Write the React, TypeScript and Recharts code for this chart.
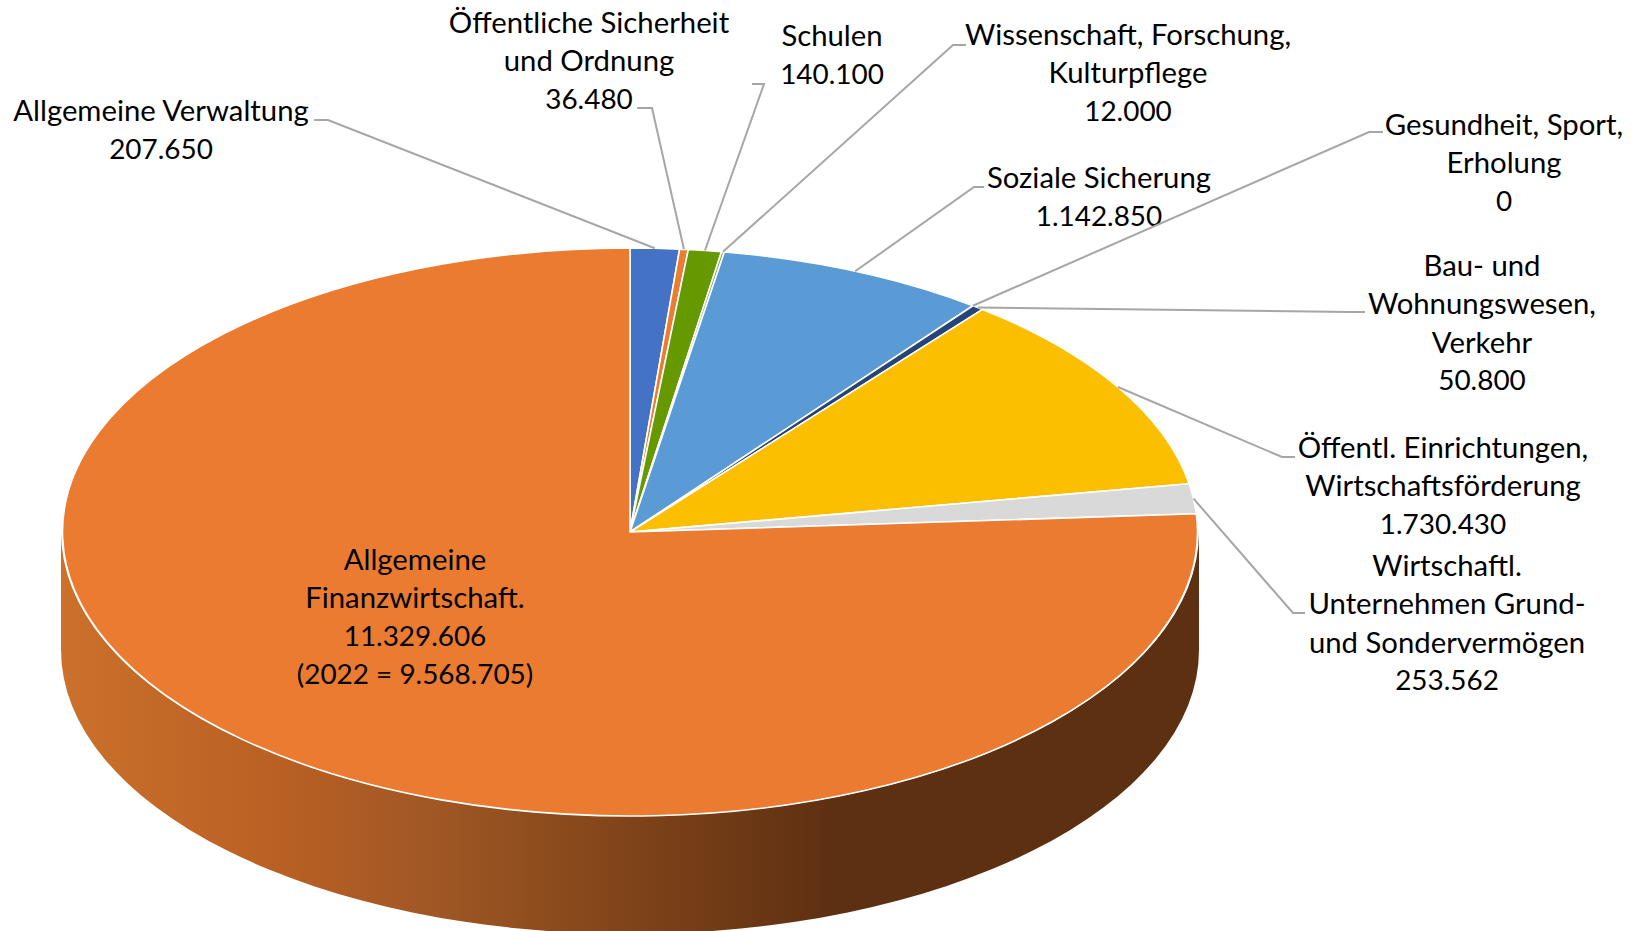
import React from "react";
import { PieChart, Pie } from "recharts";

const categories = [
  "Allgemeine Verwaltung",
  "Öffentliche Sicherheit und Ordnung",
  "Schulen",
  "Wissenschaft, Forschung, Kulturpflege",
  "Soziale Sicherung",
  "Gesundheit, Sport, Erholung",
  "Bau- und Wohnungswesen, Verkehr",
  "Öffentl. Einrichtungen, Wirtschaftsförderung",
  "Wirtschaftl. Unternehmen Grund- und Sondervermögen",
  "Allgemeine Finanzwirtschaft.",
];
const values = [207650, 36480, 140100, 12000, 1142850, 0, 50800, 1730430, 253562, 11329606];
const labelLines = [
  ["Allgemeine Verwaltung"],
  ["Öffentliche Sicherheit", "und Ordnung"],
  ["Schulen"],
  ["Wissenschaft, Forschung,", "Kulturpflege"],
  ["Soziale Sicherung"],
  ["Gesundheit, Sport,", "Erholung"],
  ["Bau- und", "Wohnungswesen,", "Verkehr"],
  ["Öffentl. Einrichtungen,", "Wirtschaftsförderung"],
  ["Wirtschaftl.", "Unternehmen Grund-", "und Sondervermögen"],
  ["Allgemeine", "Finanzwirtschaft."],
];
const labelNotes = ["", "", "", "", "", "", "", "", "", "(2022 = 9.568.705)"];

const sliceColors = ["#4472C4", "#EC7C30", "#669900", "#70AD47", "#5B9BD5", "#1F4E79", "#264478", "#FCBF00", "#D9D9D9", "#EA7B30"];

// label layout: text centre x, first line y, [leader end x, leader elbow x, leader y]
const labelX = [161, 589, 832, 1128, 1099, 1504, 1482, 1443, 1447, 415];
const labelY = [109.5, 21.5, 34.5, 33.5, 176.5, 123.5, 264.5, 446.5, 564.5, 558.5];
const leaderEnd = [314, 637, 752, 966, 984, 1383, 1365, 1295, 1305, 0];
const leaderElbow = [328, 652, 764, 953, 974, 1369, 1350, 1282, 1293, 0];
const leaderY = [120, 108, 84, 45, 187, 132, 312, 457, 613, 0];

const CX = 630;
const CY = 532;
const RX = 567.5;
const RY = 284;
const DEPTH = 118;
const RAD = Math.PI / 180;
const LINE = 38.3;
const FONT = "Lato, sans-serif";
const FONT_SIZE = 29.3;
const NUMBER_FONT_SIZE = 27.9;

const px = (a: number, rx = RX) => CX + rx * Math.cos(a * RAD);
const py = (a: number, off = 0) => CY + off - RY * Math.sin(a * RAD);

function SliceShape(props: any) {
  const { startAngle, endAngle, fill } = props;
  if (Math.abs(startAngle - endAngle) < 0.001) return null;
  const large = Math.abs(startAngle - endAngle) > 180 ? 1 : 0;
  const top = `M${CX},${CY} L${px(startAngle)},${py(startAngle)} A${RX},${RY} 0 ${large} 1 ${px(endAngle)},${py(endAngle)} Z`;
  const hi = Math.min(Math.max(startAngle, endAngle), 0);
  const lo = Math.max(Math.min(startAngle, endAngle), -180);
  const wrx = RX + 1.5;
  return (
    <g>
      {hi > lo && (
        <>
          <defs>
            <linearGradient id="wallGrad" gradientUnits="userSpaceOnUse" x1={61} x2={1199} y1={0} y2={0}>
              <stop offset="0" stopColor="#CB712B" />
              <stop offset="0.2" stopColor="#B85F24" />
              <stop offset="0.32" stopColor="#A15825" />
              <stop offset="0.47" stopColor="#85471B" />
              <stop offset="0.676" stopColor="#5E3012" />
              <stop offset="1" stopColor="#5E3012" />
            </linearGradient>
          </defs>
          <path
            fill="url(#wallGrad)"
            d={`M${px(hi, wrx)},${py(hi)} A${wrx},${RY} 0 0 1 ${px(lo, wrx)},${py(lo)} L${px(lo, wrx)},${py(lo, DEPTH)} A${wrx},${RY} 0 0 0 ${px(hi, wrx)},${py(hi, DEPTH)} Z`}
          />
        </>
      )}
      <path d={top} fill={fill} stroke="#FFFFFF" strokeWidth={1.6} strokeLinejoin="round" />
    </g>
  );
}

function SliceLabel(props: any) {
  const { index, midAngle } = props;
  const words = labelLines[index];
  const lines = [
    ...words,
    values[index].toLocaleString("de-DE"),
    ...(labelNotes[index] ? [labelNotes[index]] : []),
  ];
  const hasLeader = leaderEnd[index] > 0;
  return (
    <g>
      {hasLeader && (
        <polyline
          fill="none"
          stroke="#A6A6A6"
          strokeWidth={2}
          points={`${px(midAngle)},${py(midAngle)} ${leaderElbow[index]},${leaderY[index]} ${leaderEnd[index]},${leaderY[index]}`}
        />
      )}
      <text textAnchor="middle" fontFamily={FONT} fill="#000000">
        {lines.map((t, i) => (
          <tspan
            key={i}
            x={labelX[index]}
            y={labelY[index] + i * LINE}
            dominantBaseline="central"
            fontSize={i < words.length ? FONT_SIZE : NUMBER_FONT_SIZE}
          >
            {t}
          </tspan>
        ))}
      </text>
    </g>
  );
}

const pieData = categories.map((name, i) => ({ name, value: values[i], fill: sliceColors[i] }));

export default function App() {
  return (
    <div style={{ position: "absolute", left: 0, top: 0, width: 1633, height: 931, overflow: "hidden", background: "#fff" }}>
      <PieChart width={1633} height={931} margin={{ top: 0, right: 0, bottom: 0, left: 0 }}>
        <Pie
          data={pieData}
          dataKey="value"
          nameKey="name"
          cx={CX}
          cy={CY}
          innerRadius={0}
          outerRadius={RX}
          startAngle={90}
          endAngle={-270}
          stroke="none"
          isAnimationActive={false}
          shape={SliceShape}
          label={SliceLabel}
          labelLine={false}
        />
      </PieChart>
    </div>
  );
}
